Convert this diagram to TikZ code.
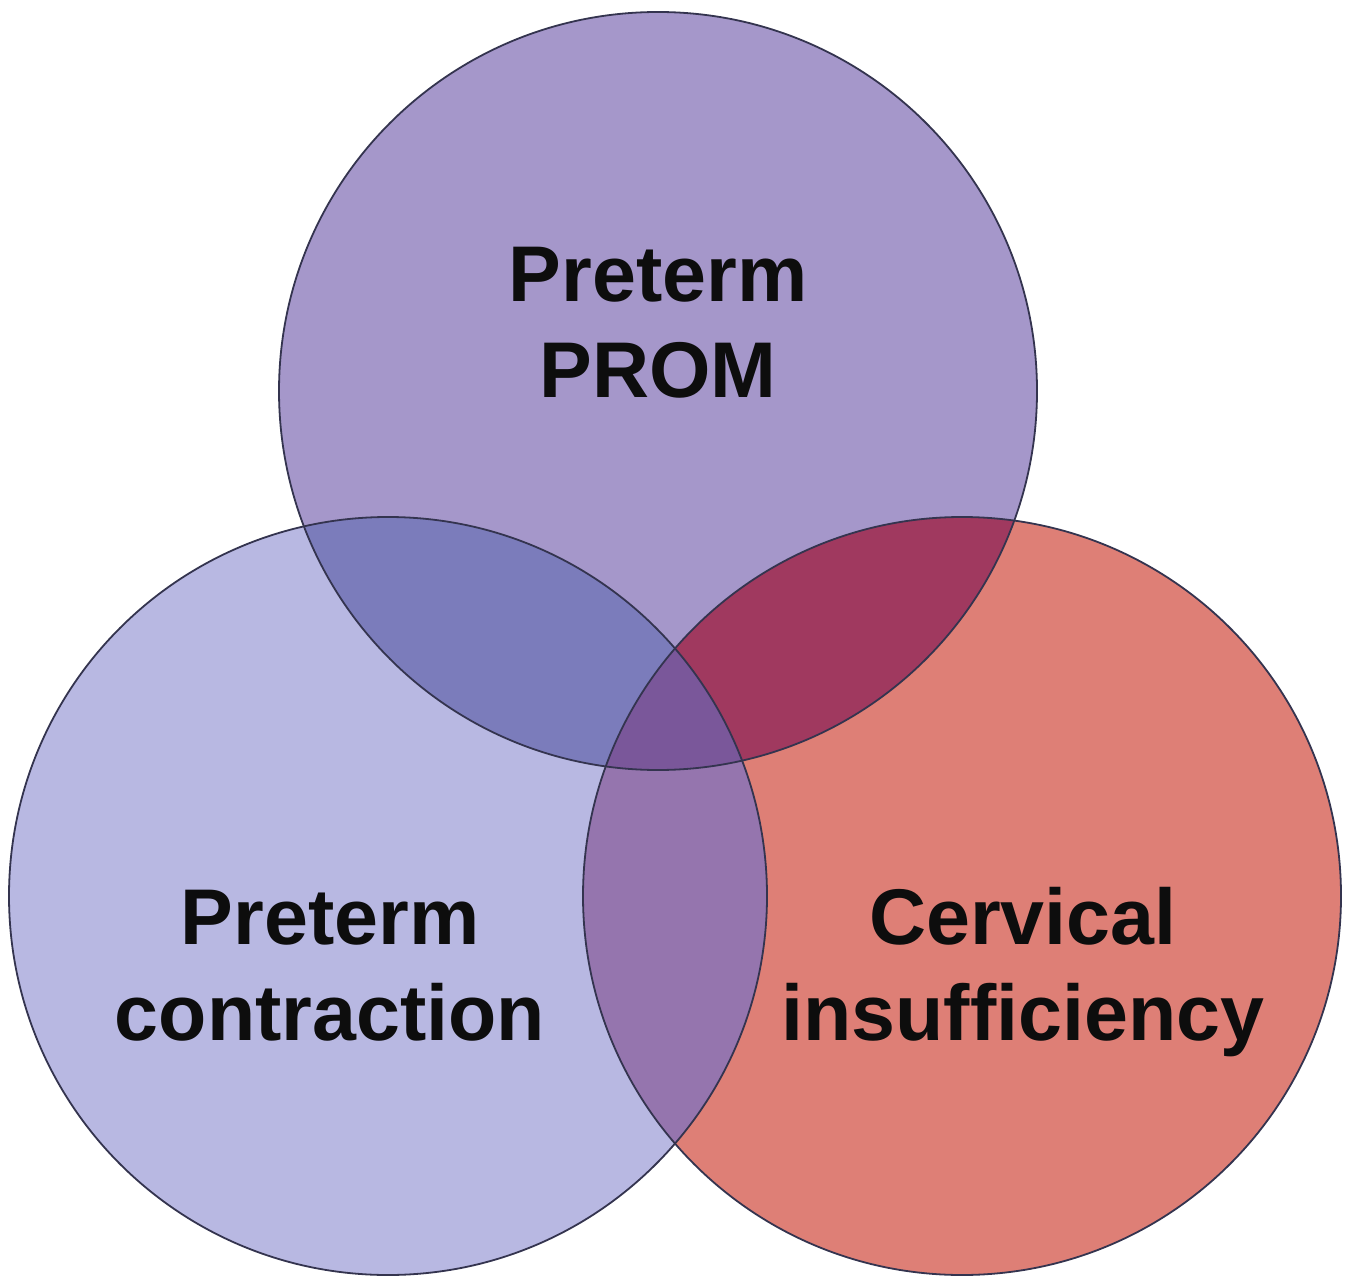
\documentclass[tikz,border=0pt]{standalone}
\usepackage{fontspec}
\setmainfont{Liberation Sans}
\definecolor{ctop}{HTML}{A597CA}
\definecolor{cleft}{HTML}{B8B8E2}
\definecolor{cright}{HTML}{DE7F76}
\definecolor{ctl}{HTML}{7B7CBB}
\definecolor{ctr}{HTML}{A0395F}
\definecolor{clr}{HTML}{9575AE}
\definecolor{call}{HTML}{7A579A}
\definecolor{edge}{HTML}{34344F}
\tikzset{
  lbl/.style={anchor=base, inner sep=0pt, font=\fontsize{39.5}{48}\selectfont\bfseries, text=black!95},
  ring/.style={draw=edge, line width=0.9pt}
}
\begin{document}
\begin{tikzpicture}[x=0.5pt,y=-0.5pt]
\fill[white] (0,0) rectangle (1352,1277);
\useasboundingbox (0,0) rectangle (1352,1277);
\coordinate (T) at (658,391);
\coordinate (L) at (388,896);
\coordinate (R) at (962,896);
\def\rr{189.5pt}
\fill[ctop] (T) circle (\rr);
\fill[cleft] (L) circle (\rr);
\fill[cright] (R) circle (\rr);
\begin{scope}\clip (T) circle (\rr); \fill[ctl] (L) circle (\rr);\end{scope}
\begin{scope}\clip (T) circle (\rr); \fill[ctr] (R) circle (\rr);\end{scope}
\begin{scope}\clip (L) circle (\rr); \fill[clr] (R) circle (\rr);\end{scope}
\begin{scope}\clip (T) circle (\rr); \clip (L) circle (\rr); \fill[call] (R) circle (\rr);\end{scope}
\draw[ring] (T) circle (\rr);
\draw[ring] (L) circle (\rr);
\draw[ring] (R) circle (\rr);
\node[lbl] (t1) at (658,302) {Preterm};
\node[lbl] (t2) at (658,398) {PROM};
\node[lbl] (l1) at (330,944) {Preterm};
\node[lbl] (l2) at (330,1040) {contraction};
\node[lbl] (r1) at (1023,944) {Cervical};
\node[lbl] (r2) at (1023,1040) {insufficiency};
\end{tikzpicture}
\end{document}
